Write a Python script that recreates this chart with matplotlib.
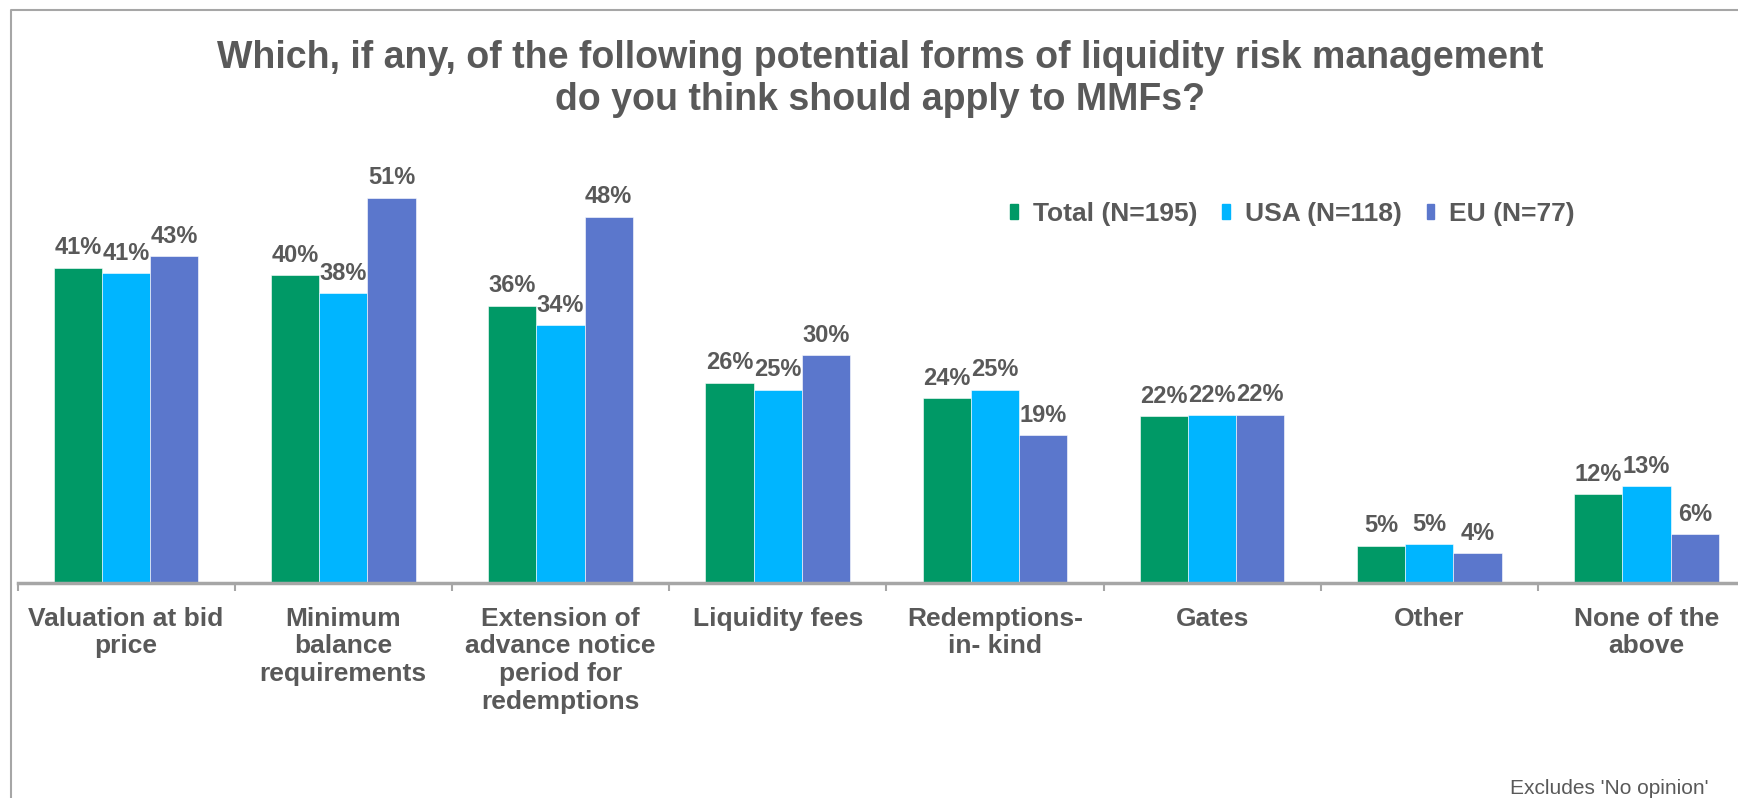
import matplotlib
matplotlib.use("Agg")
import matplotlib.pyplot as plt
from matplotlib.lines import Line2D
from matplotlib.patches import Patch

plt.rcParams['font.family'] = ['Liberation Sans', 'DejaVu Sans']

# survey results, % of respondents
categories = ['Valuation at bid\nprice', 'Minimum\nbalance\nrequirements',
              'Extension of\nadvance notice\nperiod for\nredemptions',
              'Liquidity fees', 'Redemptions-\nin- kind', 'Gates', 'Other',
              'None of the\nabove']
total = [41.4, 40.4, 36.4, 26.3, 24.3, 21.9, 4.9, 11.7]
usa = [40.7, 38.1, 33.9, 25.4, 25.4, 22.0, 5.1, 12.7]
eu = [42.9, 50.6, 48.1, 29.9, 19.4, 22.1, 3.9, 6.4]
series_names = ['Total (N=195)', 'USA (N=118)', 'EU (N=77)']
colors = ['#009966', '#00B5FF', '#5B77CC']

TEXT = '#595959'
GREY = '#A6A6A6'
W, H = 1738, 798

fig = plt.figure(figsize=(W / 100, H / 100), dpi=100)
ax = fig.add_axes([17.5 / W, 215 / H, 8 * 217.2 / W, 60 * 7.615 / H])

width = 0.222
x = list(range(len(categories)))
for k, (vals, name, col) in enumerate(zip([total, usa, eu], series_names, colors)):
    xs = [i + (k - 1) * width for i in x]
    ax.bar(xs, vals, width=width, color=col, label=name,
           edgecolor='white', linewidth=0.4)
    for xi, v in zip(xs, vals):
        ax.annotate(f'{v:.0f}%', (xi, v), xytext=(0, 6),
                    textcoords='offset points', ha='center', va='bottom',
                    fontsize=17, fontweight='bold', color=TEXT)

ax.set_xlim(-0.5, len(categories) - 0.5)
ax.set_ylim(0, 60)
ax.set_yticks([])
for side in ['top', 'right', 'left']:
    ax.spines[side].set_visible(False)
ax.spines['bottom'].set_color(GREY)
ax.spines['bottom'].set_linewidth(2.5)

ax.set_xticks(x)
ax.set_xticklabels(categories, fontsize=19, fontweight='bold', color=TEXT)
ax.tick_params(axis='x', which='major', length=0, pad=17)
ax.set_xticks([i - 0.5 for i in range(len(categories) + 1)], minor=True)
ax.tick_params(axis='x', which='minor', length=6, width=1.5, color=GREY,
               direction='out')

handles = [Patch(color=c) for c in colors]
fig.legend(handles, series_names, loc='center left',
           bbox_to_anchor=(997 / W, 1 - 214 / H), ncol=3, frameon=False,
           borderpad=0, handlelength=0.3, handleheight=0.5,
           handletextpad=0.55, columnspacing=0.95,
           prop={'size': 19, 'weight': 'bold'}, labelcolor=TEXT)

fig.text(880 / W, 1 - 68 / H,
         'Which, if any, of the following potential forms of liquidity risk management',
         ha='center', va='baseline', fontsize=27, fontweight='bold', color=TEXT)
fig.text(880 / W, 1 - 110 / H, 'do you think should apply to MMFs?',
         ha='center', va='baseline', fontsize=27, fontweight='bold', color=TEXT)

fig.text(1708 / W, 1 - 794 / H, "Excludes 'No opinion'", ha='right',
         va='baseline', fontsize=15, color=TEXT)

# slide frame
fig.add_artist(Line2D([11 / W, 11 / W, 1], [0, 1 - 10 / H, 1 - 10 / H],
                      transform=fig.transFigure, color=GREY, lw=1.5))

fig.savefig('out.png', dpi=100)
